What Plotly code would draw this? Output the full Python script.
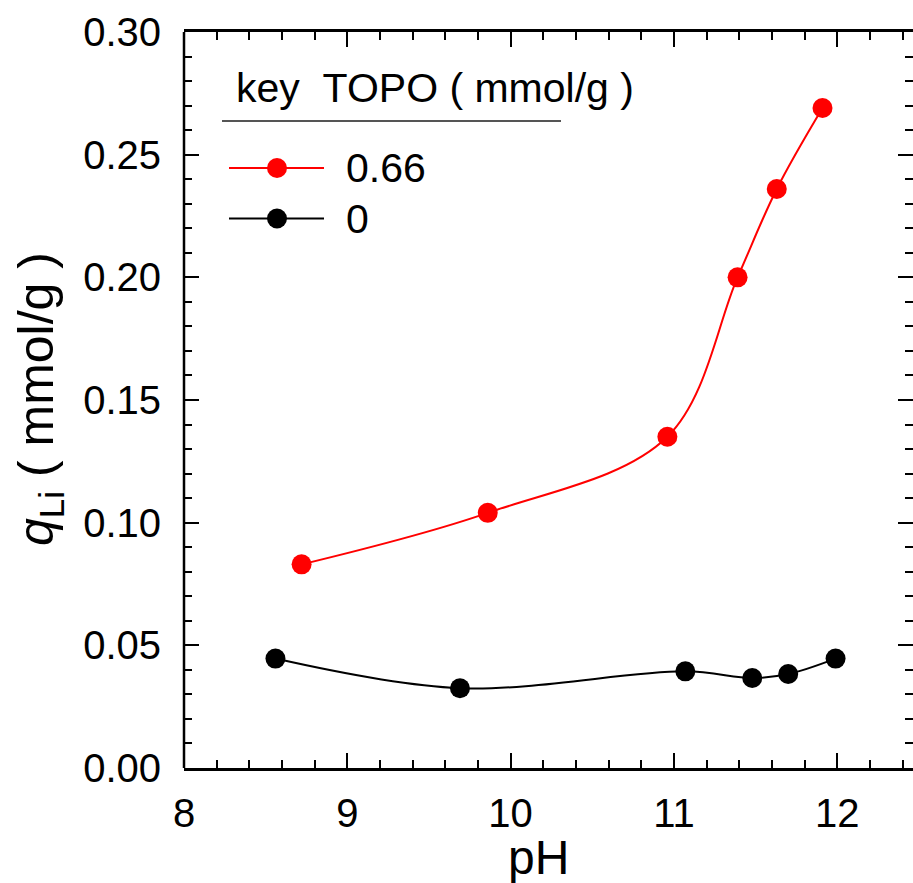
import plotly.graph_objects as go

# ---- data ----
ph_topo = [8.72, 9.86, 10.96, 11.39, 11.63, 11.91]
q_topo = [0.083, 0.104, 0.135, 0.200, 0.236, 0.269]
ph_blank = [8.56, 9.69, 11.07, 11.48, 11.70, 11.99]
q_blank = [0.0446, 0.0325, 0.0394, 0.0367, 0.0383, 0.0446]
series_names = ["0.66", "0"]
series_colors = ["#ff0000", "#000000"]
legend_title = "key\u00a0\u00a0TOPO ( mmol/g )"
x_title = "pH"
y_title = "<i>q</i><sub>Li</sub> ( mmol/g )"

W, H = 913, 883
L, R, T, B = 184, 0, 32, 115
PW, PH = W - L - R, H - T - B
FONT = "Liberation Sans, Arial, sans-serif"

def px(x):
    return (x - L) / PW

def py(y):
    return (H - B - y) / PH

fig = go.Figure()
for xs, ys, name, col in [(ph_topo, q_topo, series_names[0], series_colors[0]),
                          (ph_blank, q_blank, series_names[1], series_colors[1])]:
    fig.add_trace(go.Scatter(
        x=xs, y=ys, name=name, mode="lines+markers",
        line=dict(color=col, width=2, shape="spline", smoothing=1.0),
        marker=dict(color=col, size=20),
        showlegend=False,
    ))

axis_common = dict(
    ticks="inside", ticklen=15, tickwidth=2, tickcolor="black",
    showgrid=False, zeroline=False,
    tickfont=dict(family=FONT, size=40, color="black"),
)

fig.update_xaxes(
    range=[8, 8 + PW / 163.3], tickmode="linear", tick0=8, dtick=1,
    showline=True, linewidth=2.5, linecolor="black", mirror="allticks",
    minor=dict(dtick=0.2, ticks="inside", ticklen=8, tickwidth=2, tickcolor="black"),
    ticklabelstandoff=8,
    **axis_common,
)
fig.update_yaxes(
    range=[0, 0.30], tickmode="linear", tick0=0, dtick=0.05, tickformat=".2f",
    showline=False, mirror="allticks",
    minor=dict(dtick=0.01, ticks="inside", ticklen=8, tickwidth=2, tickcolor="black"),
    ticklabelstandoff=22,
    **axis_common,
)

shapes = []
# left frame line
shapes.append(dict(type="line", xref="paper", yref="paper", x0=0, x1=0, y0=0, y1=1,
                   line=dict(color="black", width=2.5)))
# legend underline
shapes.append(dict(type="line", xref="paper", yref="paper",
                   x0=px(222), x1=px(561), y0=py(121), y1=py(121),
                   line=dict(color="#555555", width=2)))
annotations = []
annotations.append(dict(xref="paper", yref="paper", x=px(234), y=py(88),
                        xanchor="left", yanchor="middle", showarrow=False,
                        text=legend_title, font=dict(family=FONT, size=41, color="black")))
for i, (name, col) in enumerate(zip(series_names, series_colors)):
    yy = 168 + i * 50.5
    shapes.append(dict(type="line", xref="paper", yref="paper",
                       x0=px(229), x1=px(324), y0=py(yy), y1=py(yy),
                       line=dict(color=col, width=2)))
    shapes.append(dict(type="circle", xref="paper", yref="paper",
                       x0=px(267), x1=px(287), y0=py(yy - 10), y1=py(yy + 10),
                       fillcolor=col, line=dict(color=col, width=0)))
    annotations.append(dict(xref="paper", yref="paper", x=px(344), y=py(yy),
                            xanchor="left", yanchor="middle", showarrow=False,
                            text=name, font=dict(family=FONT, size=41, color="black")))

annotations.append(dict(xref="paper", yref="paper", x=px(538), y=py(857),
                        xanchor="center", yanchor="middle", showarrow=False,
                        text=x_title, font=dict(family=FONT, size=48, color="black")))
annotations.append(dict(xref="paper", yref="paper", x=px(39), y=py(399),
                        xanchor="center", yanchor="middle", showarrow=False, textangle=-90,
                        text=y_title, font=dict(family=FONT, size=50, color="black")))

fig.update_layout(
    width=W, height=H,
    margin=dict(l=L, r=R, t=T, b=B),
    paper_bgcolor="white", plot_bgcolor="white",
    shapes=shapes, annotations=annotations,
    font=dict(family=FONT),
)

fig.write_html("out.html")
